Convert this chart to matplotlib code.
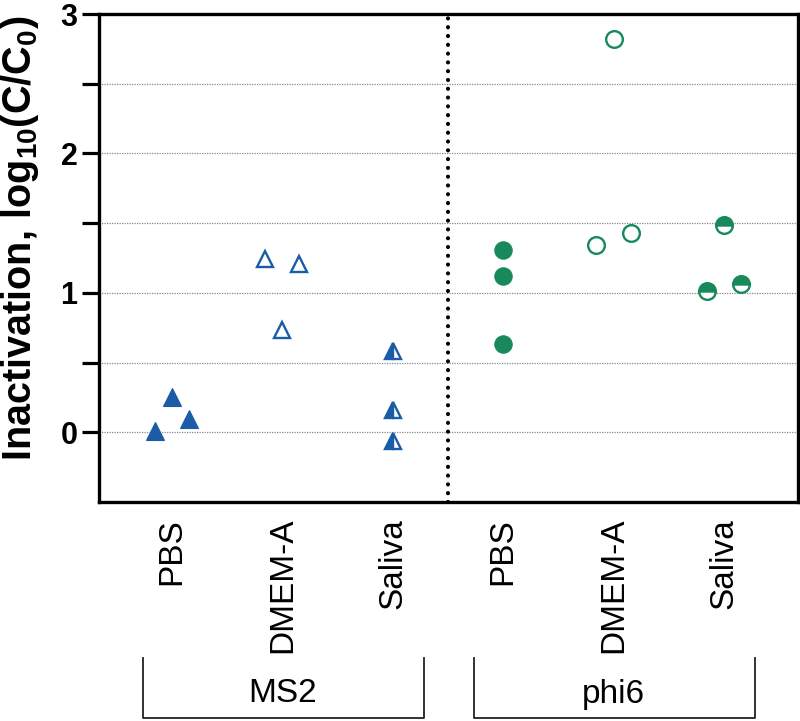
import numpy as np
import matplotlib
matplotlib.use("Agg")
import matplotlib.pyplot as plt
from matplotlib.transforms import blended_transform_factory

plt.rcParams['font.family'] = ['Liberation Sans', 'DejaVu Sans']
plt.rcParams['mathtext.fontset'] = 'custom'
plt.rcParams['mathtext.rm'] = 'Liberation Sans'
plt.rcParams['mathtext.bf'] = 'Liberation Sans:bold'

# data (log10 inactivation), three replicates per medium
media = ["PBS", "DMEM-A", "Saliva"]
viruses = ["MS2", "phi6"]
ms2_pbs = [0.01, 0.25, 0.095]
ms2_dmem = [1.24, 0.735, 1.21]
ms2_saliva = [0.58, 0.16, -0.065]
phi6_pbs = [1.31, 1.12, 0.63]
phi6_dmem = [1.34, 2.82, 1.43]
phi6_saliva = [1.01, 1.49, 1.06]

blue = '#1b5ca7'
green = '#17895a'

# horizontal scatter of the replicates inside each column
jitter = {
    'spread': [-0.155, 0.0, 0.155],
    'none': [0.0, 0.0, 0.0],
}

groups = [
    (ms2_pbs, 'spread', '^', blue, 'full'),
    (ms2_dmem, 'spread', '^', blue, 'none'),
    (ms2_saliva, 'none', '^', blue, 'left'),
    (phi6_pbs, 'none', 'o', green, 'full'),
    (phi6_dmem, 'spread', 'o', green, 'none'),
    (phi6_saliva, 'spread', 'o', green, 'top'),
]

fig = plt.figure(figsize=(8, 7.21), dpi=100)
ax = fig.add_axes([99 / 800, 1 - 502 / 721, 699 / 800, 488 / 721])

for i, (vals, jit, mk, col, fs) in enumerate(groups):
    xs = i + np.array(jitter[jit])
    if fs == 'none':
        ax.plot(xs, vals, linestyle='', marker=mk, markersize=12 if mk == 'o' else 12,
                markerfacecolor='white', markeredgecolor=col, markeredgewidth=1.7, zorder=5)
    elif fs == 'full':
        ax.plot(xs, vals, linestyle='', marker=mk, markersize=12.5 if mk == 'o' else 13,
                color=col, markeredgewidth=0.8, zorder=5)
    else:
        ax.plot(xs, vals, linestyle='', marker=mk, markersize=12 if mk == 'o' else 12,
                fillstyle=fs, markerfacecolor=col, markerfacecoloralt='white',
                markeredgecolor=col, markeredgewidth=1.7, zorder=5)

ax.set_xlim(-0.66, 5.67)
ax.set_ylim(-0.5, 3)

# horizontal dotted grid
for g in np.arange(0, 3.0, 0.5):
    ax.axhline(g, color='#8a8a8a', linestyle=(0, (1, 1)), linewidth=0.9, zorder=1)

# separator between viruses
ax.axvline(2.5, color='black', linestyle=(0, (0.01, 2.1)), linewidth=3.0,
           dash_capstyle='round', zorder=2)

for sp in ax.spines.values():
    sp.set_linewidth(2.4)

ax.set_yticks([0, 1, 2, 3])
ax.set_yticks([0.5, 1.5, 2.5], minor=True)
ax.tick_params(axis='y', which='both', length=12.5, width=2.3, pad=3)
ax.tick_params(axis='y', which='major', labelsize=22)
for lab in ax.get_yticklabels():
    lab.set_fontweight('bold')

ax.set_xticks(range(6))
ax.set_xticklabels(media * 2, rotation=90, fontsize=24)
ax.tick_params(axis='x', length=0, pad=11.5)

fig.text(20 / 800, 1 - 238 / 721, r'Inactivation, log$_{\mathbf{10}}$(C/C$_{\mathbf{0}}$)',
         rotation=90, ha='center', va='center', fontsize=28.5, fontweight='bold')

# virus brackets under the labels
tr = blended_transform_factory(ax.transData, ax.transAxes)
y_top = -(658 - 502) / 488
y_bot = -(718 - 502) / 488
for k, name in enumerate(viruses):
    x0 = 3 * k - 0.26
    x1 = 3 * k + 2.28
    ax.plot([x0, x0, x1, x1], [y_top, y_bot, y_bot, y_top], color='#222222',
            linewidth=1.3, transform=tr, clip_on=False)
    ax.text(3 * k + 1, -(694 - 502) / 488, name, transform=tr, ha='center',
            va='center', fontsize=24, fontstretch='condensed')

fig.savefig('out.png', dpi=100)
